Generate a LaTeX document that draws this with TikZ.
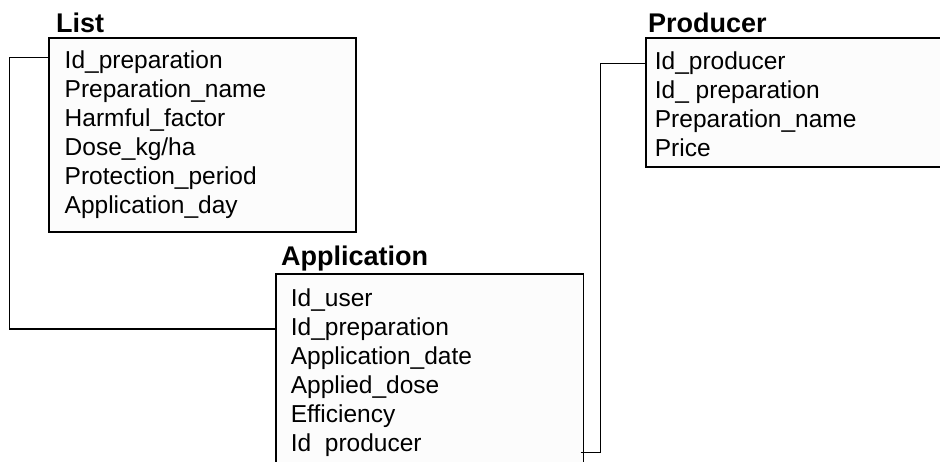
\documentclass[tikz,border=0pt]{standalone}
\usepackage{fontspec}
\setmainfont{Liberation Sans}
\definecolor{boxfill}{HTML}{FCFCFC}
\begin{document}
\begin{tikzpicture}[x=1pt,y=-1pt,
  tablebox/.style={draw=black, fill=boxfill, line width=1.5pt, rectangle,
    inner sep=0pt, outer sep=0pt, anchor=north west},
  tabletitle/.style={anchor=base west, inner sep=0pt,
    font=\fontsize{27}{32}\selectfont\bfseries},
  field/.style={anchor=base west, inner sep=0pt,
    font=\fontsize{24.5}{29}\selectfont},
  link/.style={draw=black, line width=1.5pt}]
\useasboundingbox (0,0) rectangle (940,461);
\clip (0,0) rectangle (940,461);

% table frames
\node[tablebox, minimum width=307pt, minimum height=194pt] (list) at (49,38) {};
\node[tablebox, minimum width=307.5pt, minimum height=200pt] (app) at (276,274) {};
\node[tablebox, minimum width=310pt, minimum height=129pt] (prod) at (646,38) {};

% titles
\node[tabletitle] (tlist) at (56,32) {List};
\node[tabletitle] (tapp) at (281,265) {Application};
\node[tabletitle] (tprod) at (648,32) {Producer};

% List fields
\node[field] (l1) at (64.5,68.5) {Id\_preparation};
\node[field] (l2) at (64.5,97.4) {Preparation\_name};
\node[field] (l3) at (64.5,126.3) {Harmful\_factor};
\node[field] (l4) at (64.5,155.2) {Dose\_kg/ha};
\node[field] (l5) at (64.5,184.1) {Protection\_period};
\node[field] (l6) at (64.5,213) {Application\_day};

% Application fields
\node[field] (a1) at (290.7,306) {Id\_user};
\node[field] (a2) at (290.7,335.1) {Id\_preparation};
\node[field] (a3) at (290.7,364.2) {Application\_date};
\node[field] (a4) at (290.7,393.3) {Applied\_dose};
\node[field] (a5) at (290.7,422.4) {Efficiency};
\node[field] (a6) at (290.7,451.5) {Id\phantom{\_}producer};

% Producer fields
\node[field] (p1) at (654.7,69.5) {Id\_producer};
\node[field] (p2) at (654.7,98.4) {Id\_ preparation};
\node[field] (p3) at (654.7,127.3) {Preparation\_name};
\node[field] (p4) at (654.7,156.2) {Price};

% key row levels
\coordinate (klist) at (0,57.5);
\coordinate (kapp) at (0,329);
\coordinate (kappout) at (0,452.5);
\coordinate (kprod) at (0,63.5);

% relations
\draw[link] (list.west |- klist) -- ++(-39.5,0) |- (app.west |- kapp);
\draw[link] ([xshift=-3pt]app.east |- kappout) -- ++(20,0) |- (prod.west |- kprod);
\end{tikzpicture}
\end{document}
